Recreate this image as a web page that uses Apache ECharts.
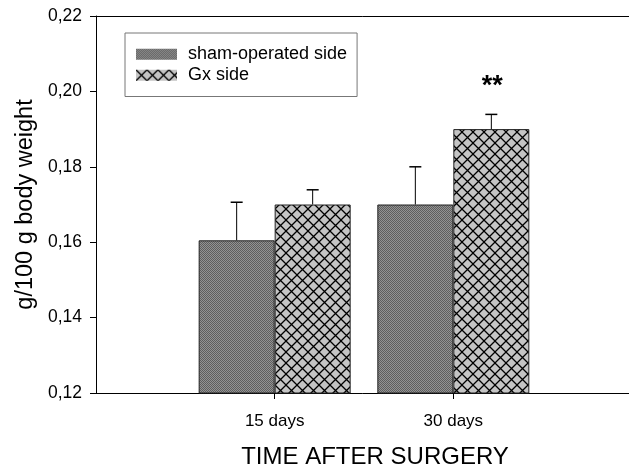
<!DOCTYPE html>
<html>
<head>
<meta charset="utf-8">
<script src="https://cdn.jsdelivr.net/npm/echarts@6/dist/echarts.min.js"></script>
<style>html,body{margin:0;padding:0;background:#fff;}#c{width:629px;height:466px;}</style>
</head>
<body>
<div id="c"></div>
<script>
var categories = ['', '15 days', '30 days', ''];
var shamValues = ['-', 0.1605, 0.170, '-'];
var shamErrTop = [null, 0.1706, 0.180, null];
var gxValues = ['-', 0.170, 0.190, '-'];
var gxErrTop = [null, 0.1739, 0.1939, null];
var gxSignificance = ['', '', '**', ''];
var yTickLabels = { '0.12': '0,12', '0.14': '0,14', '0.16': '0,16', '0.18': '0,18', '0.2': '0,20', '0.22': '0,22' };

function makeStipple() {
  var c = document.createElement('canvas'); c.width = 4; c.height = 4;
  var g = c.getContext('2d');
  g.fillStyle = '#777'; g.fillRect(0, 0, 4, 4);
  for (var y = 0; y < 4; y++) for (var x = 0; x < 4; x++) {
    g.fillStyle = ((x + y) % 2 === 0) ? '#5e5e5e' : '#939393';
    g.fillRect(x, y, 1, 1);
  }
  return c;
}
function makeHatch() {
  var s = 11;
  var c = document.createElement('canvas'); c.width = s; c.height = s;
  var g = c.getContext('2d');
  g.fillStyle = '#c4c4c4'; g.fillRect(0, 0, s, s);
  g.strokeStyle = '#000'; g.lineWidth = 1.3;
  g.beginPath();
  g.moveTo(-1, -1); g.lineTo(s + 1, s + 1);
  g.moveTo(s + 1, -1); g.lineTo(-1, s + 1);
  g.stroke();
  return c;
}
var BAR_W = 76;
var FONT = '"Liberation Sans", Arial, sans-serif';
var chart = echarts.init(document.getElementById('c'));

function errItem(errArr, side, stars) {
  return function (params, api) {
    var i = params.dataIndex;
    var top = errArr[i];
    if (top == null) return null;
    var base = api.coord([i, api.value(1)]);
    var tp = api.coord([i, top]);
    var x = base[0] + side * BAR_W / 2;
    var children = [
      { type: 'line', shape: { x1: x, y1: base[1], x2: x, y2: tp[1] }, style: { stroke: '#000', lineWidth: 1 } },
      { type: 'line', shape: { x1: x - 6, y1: tp[1], x2: x + 6, y2: tp[1] }, style: { stroke: '#000', lineWidth: 1.5 } }
    ];
    if (stars && stars[i]) {
      children.push({ type: 'text', style: { text: stars[i], x: x + 1, y: tp[1] - 28, align: 'center', verticalAlign: 'middle', font: 'bold 27px ' + FONT, fill: '#000' } });
    }
    return { type: 'group', children: children };
  };
}

chart.setOption({
  animation: false,
  backgroundColor: '#fff',
  textStyle: { fontFamily: FONT },
  grid: { left: 96, right: -3, top: 16, bottom: 73, containLabel: false, outerBoundsMode: 'none' },
  legend: {
    orient: 'vertical', left: 125, top: 33,
    padding: [11, 10, 11, 11],
    borderColor: '#777', borderWidth: 1, borderRadius: 0,
    icon: 'rect',
    itemWidth: 41, itemHeight: 11, itemGap: 0.5,
    itemStyle: { borderWidth: 0 },
    textStyle: { fontSize: 18, color: '#000', lineHeight: 20.5, padding: [0, 0, 0, 6] },
    data: ['sham-operated side', 'Gx side']
  },
  xAxis: [{
    type: 'category', data: categories, boundaryGap: false,
    axisLine: { lineStyle: { color: '#000', width: 1 } },
    axisTick: { show: true, length: 6, interval: function (i) { return i === 1 || i === 2; }, lineStyle: { color: '#000' } },
    axisLabel: { fontSize: 17, color: '#000', margin: 20, interval: 0 },
    name: 'TIME AFTER SURGERY', nameLocation: 'middle', nameGap: 52,
    nameTextStyle: { fontSize: 24, color: '#000', padding: [0, 0, 0, 22] }
  }, {
    type: 'category', data: categories, boundaryGap: false, position: 'top',
    axisLine: { lineStyle: { color: '#000', width: 1 } },
    axisTick: { show: false }, axisLabel: { show: false }
  }],
  yAxis: {
    type: 'value', min: 0.12, max: 0.22, interval: 0.02,
    axisLine: { show: true, lineStyle: { color: '#000', width: 1 } },
    axisTick: { show: true, length: 6, lineStyle: { color: '#000' } },
    splitLine: { show: false },
    axisLabel: { fontSize: 17.5, color: '#000', margin: 14, formatter: function (v) { return yTickLabels[String(+v.toFixed(2))] || v.toFixed(2).replace('.', ','); } },
    name: 'g/100 g body weight', nameLocation: 'middle', nameGap: 55,
    nameTextStyle: { fontSize: 23.5, color: '#000' }
  },
  series: [{
    name: 'sham-operated side', type: 'bar', data: shamValues,
    barWidth: BAR_W, barGap: '0%',
    itemStyle: { color: { image: makeStipple(), repeat: 'repeat' }, borderColor: '#222', borderWidth: 1 }
  }, {
    name: 'Gx side', type: 'bar', data: gxValues,
    barWidth: BAR_W, barGap: '0%',
    itemStyle: { color: { image: makeHatch(), repeat: 'repeat' }, borderColor: '#222', borderWidth: 1 }
  }, {
    type: 'custom', name: 'shamErr', silent: true, z: 5,
    data: shamValues.map(function (v, i) { return [i, v === '-' ? 0 : v]; }),
    renderItem: errItem(shamErrTop, -1, null)
  }, {
    type: 'custom', name: 'gxErr', silent: true, z: 5,
    data: gxValues.map(function (v, i) { return [i, v === '-' ? 0 : v]; }),
    renderItem: errItem(gxErrTop, 1, gxSignificance)
  }]
});
</script>
</body>
</html>
